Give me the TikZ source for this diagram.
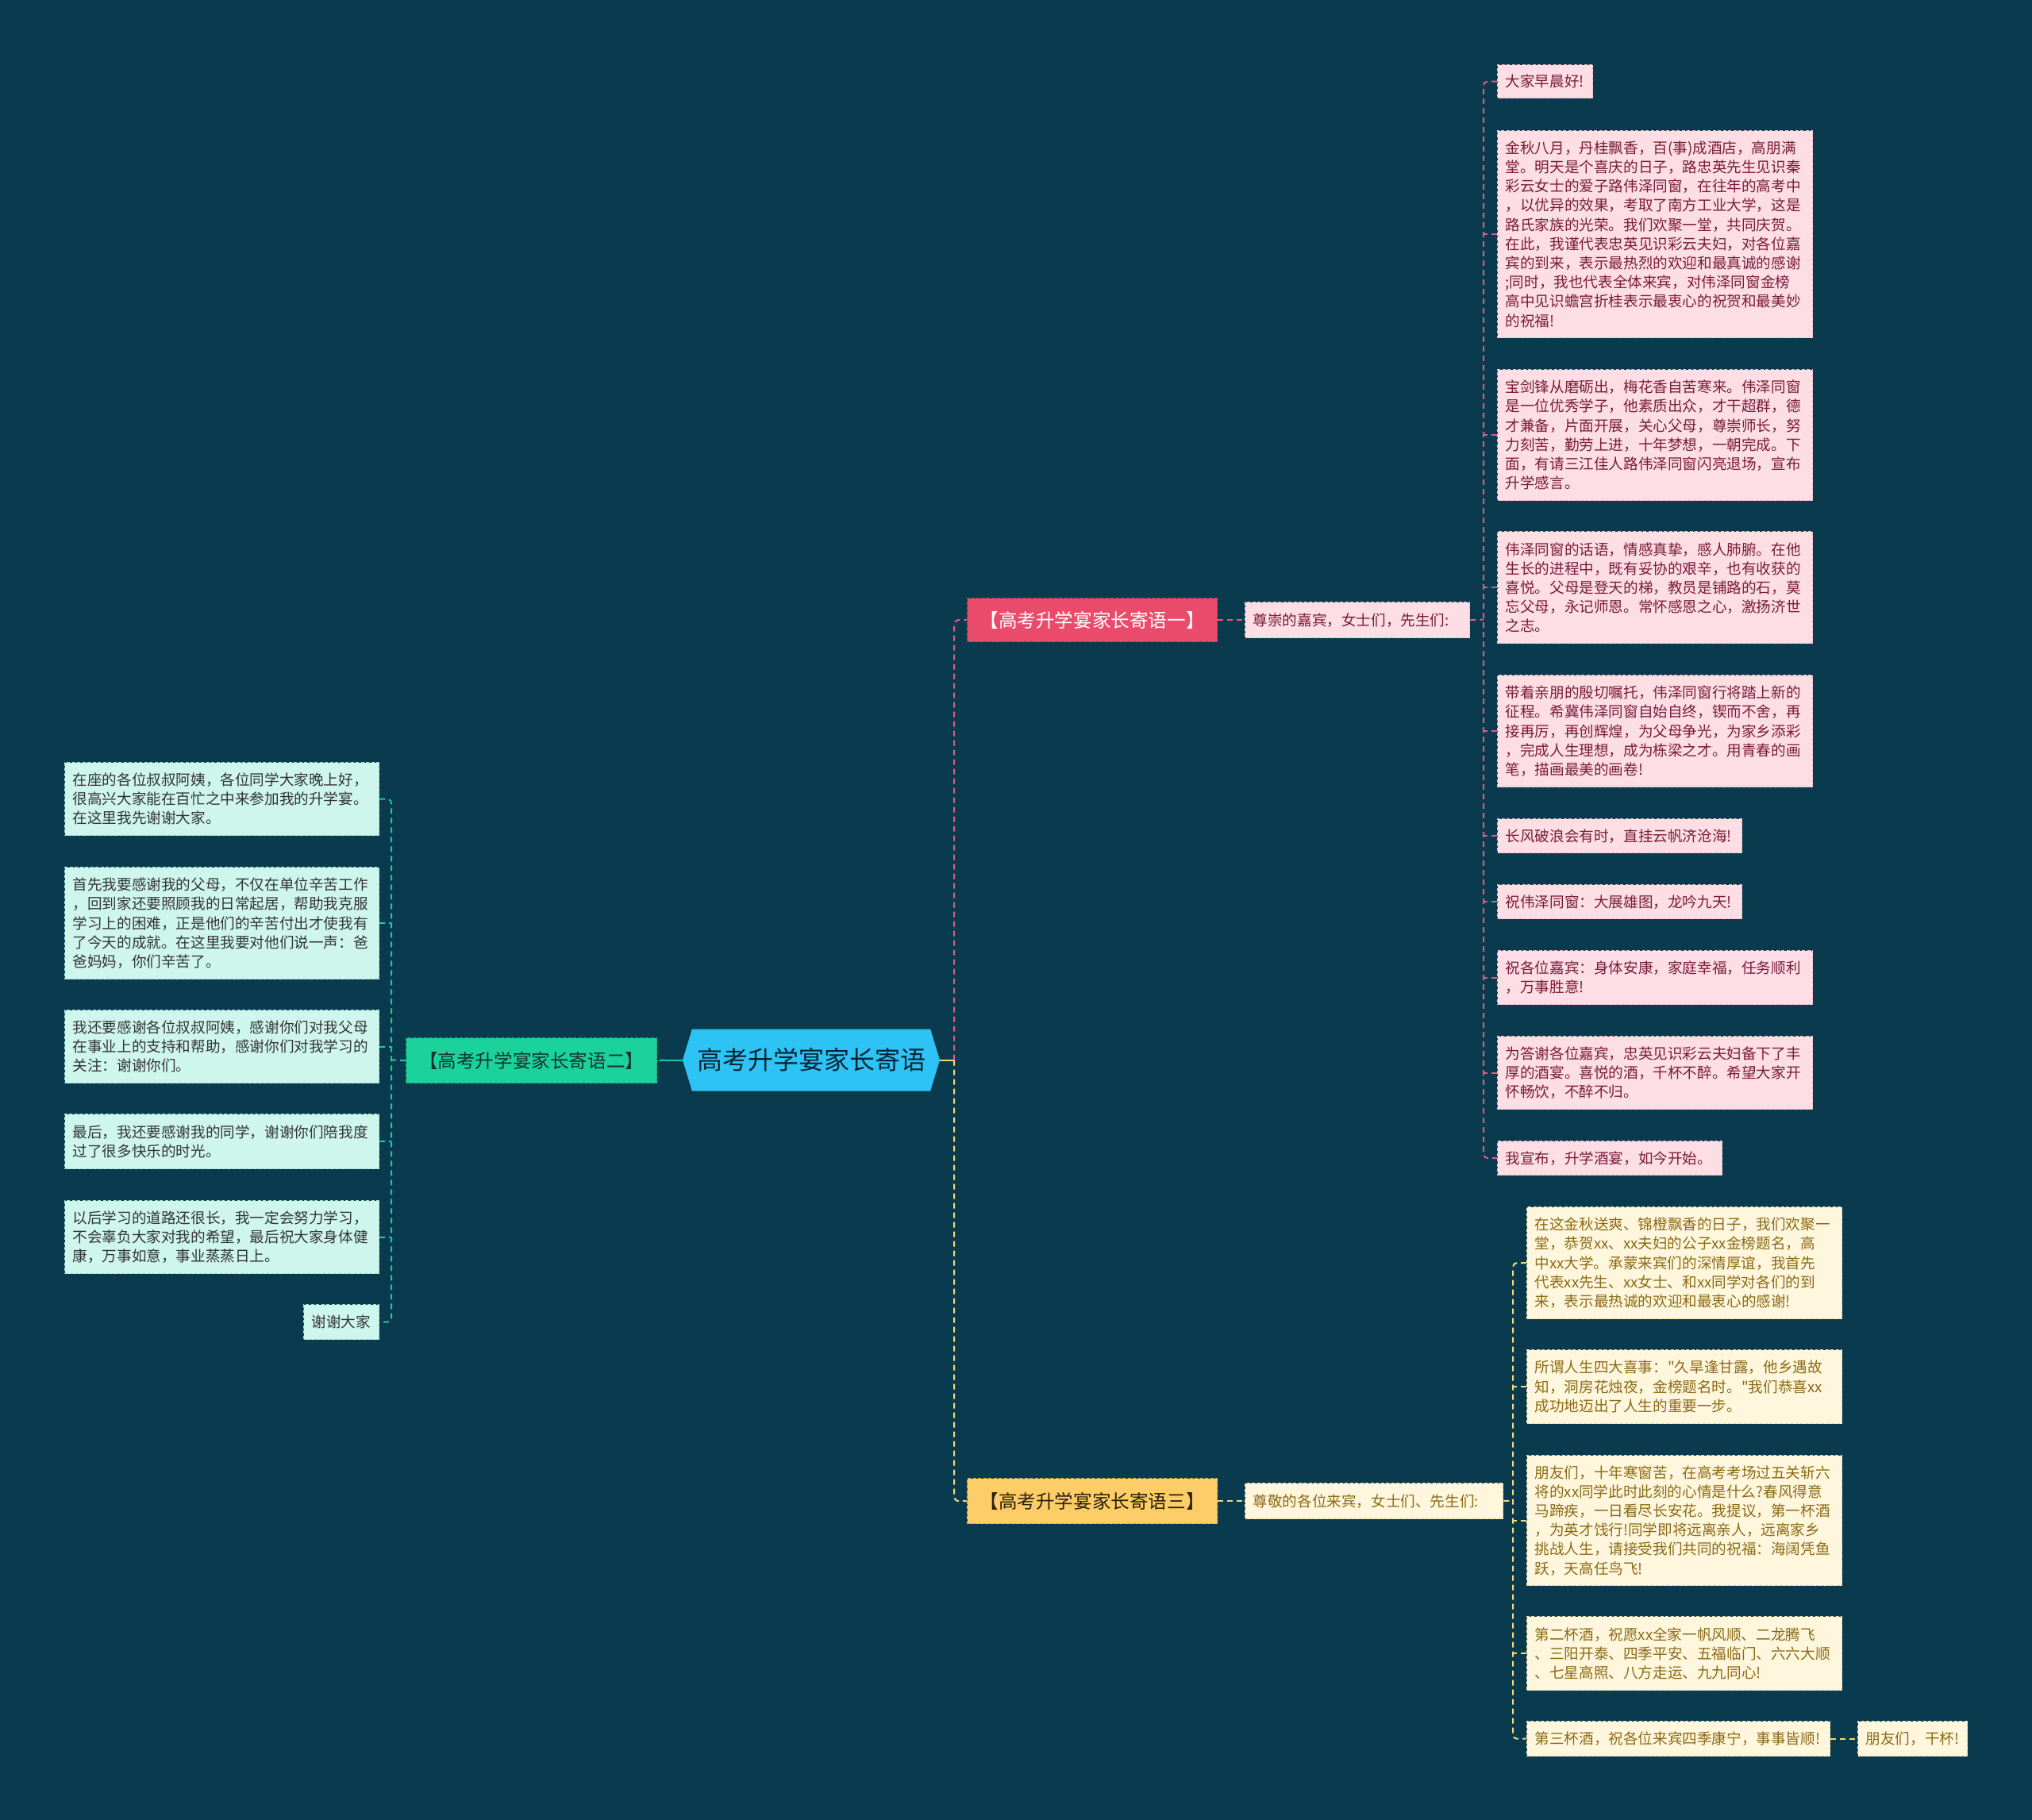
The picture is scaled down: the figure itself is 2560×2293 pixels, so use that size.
\documentclass[tikz,border=0pt]{standalone}
\usepackage{fontspec}
\setmainfont{Noto Sans CJK SC}
\newfontfamily\cjkfont{Noto Sans CJK SC}
\usetikzlibrary{calc,shapes.symbols}
\definecolor{bgc}{RGB}{9,58,78}
\definecolor{pkfill}{RGB}{252,222,228}
\definecolor{pkedge}{RGB}{236,186,198}
\definecolor{pktext}{RGB}{122,26,60}
\definecolor{pkline}{RGB}{222,92,132}
\definecolor{pkbr}{RGB}{235,75,107}
\definecolor{pkbredge}{RGB}{196,52,84}
\definecolor{gnfill}{RGB}{207,246,236}
\definecolor{gnedge}{RGB}{160,220,205}
\definecolor{gntext}{RGB}{50,52,52}
\definecolor{gnline}{RGB}{30,200,160}
\definecolor{gnbr}{RGB}{28,210,155}
\definecolor{gnbredge}{RGB}{18,165,122}
\definecolor{gnbrtext}{RGB}{22,50,42}
\definecolor{ywfill}{RGB}{254,247,222}
\definecolor{ywedge}{RGB}{232,214,168}
\definecolor{ywtext}{RGB}{140,105,20}
\definecolor{ywline}{RGB}{246,216,120}
\definecolor{ywbr}{RGB}{253,205,104}
\definecolor{ywbredge}{RGB}{215,168,72}
\definecolor{ywbrtext}{RGB}{42,32,10}
\definecolor{rootc}{RGB}{45,196,245}
\definecolor{roottext}{RGB}{10,35,50}
\tikzset{
  basebox/.style={anchor=north west, inner xsep=10pt, inner ysep=0pt, align=left,
    font=\cjkfont\fontsize{18.6pt}{24.2pt}\selectfont, line width=1.3pt, dash pattern=on 4pt off 2.5pt},
  pbox/.style={basebox, fill=pkfill, draw=pkedge, text=pktext},
  gbox/.style={basebox, fill=gnfill, draw=gnedge, text=gntext},
  ybox/.style={basebox, fill=ywfill, draw=ywedge, text=ywtext},
  brbox/.style={anchor=north west, inner sep=0pt, minimum width=315pt, minimum height=55pt,
    line width=1.3pt, dash pattern=on 4pt off 2.5pt, font=\cjkfont\fontsize{23.6pt}{28pt}\selectfont},
  conn/.style={line width=2pt, dash pattern=on 7pt off 5pt},
  pline/.style={conn, draw=pkline},
  gline/.style={conn, draw=gnline},
  yline/.style={conn, draw=ywline},
}
\begin{document}
\begin{tikzpicture}[x=1pt,y=-1pt]
\fill[bgc] (0,0) rectangle (2560,2293);
\useasboundingbox (0,0) rectangle (2560,2293);

% root
\node[signal, signal to=west and east, signal pointer angle=146, minimum width=324pt,
  minimum height=78pt, inner sep=0pt, fill=rootc, text=roottext,
  font=\cjkfont\fontsize{32pt}{38pt}\selectfont] (R) at (1022,1335.5) {高考升学宴家长寄语};

% branches
\node[brbox, fill=pkbr, draw=pkbredge, text=white] (B1) at (1218,753) {【高考升学宴家长寄语一】};
\node[brbox, fill=gnbr, draw=gnbredge, text=gnbrtext, minimum width=316pt, minimum height=57pt] (B2) at (511,1307) {【高考升学宴家长寄语二】};
\node[brbox, fill=ywbr, draw=ywbredge, text=ywbrtext, minimum height=57pt] (B3) at (1218,1862) {【高考升学宴家长寄语三】};

% labels
\node[pbox, minimum width=283pt, minimum height=45pt, text width=263pt] (L1) at (1568,758) {尊崇的嘉宾，女士们，先生们:};
\node[ybox, minimum width=325pt, minimum height=45pt, text width=305pt] (L3) at (1568,1868) {尊敬的各位来宾，女士们、先生们:};

% pink children
\node[pbox, minimum width=120pt, minimum height=42pt, text width=100pt] (P1) at (1886,81) {大家早晨好!};
\node[pbox, minimum width=397pt, minimum height=261pt, text width=377pt] (P2) at (1886,164) {金秋八月，丹桂飘香，百(事)成酒店，高朋满\\堂。明天是个喜庆的日子，路忠英先生见识秦\\彩云女士的爱子路伟泽同窗，在往年的高考中\\，以优异的效果，考取了南方工业大学，这是\\路氏家族的光荣。我们欢聚一堂，共同庆贺。\\在此，我谨代表忠英见识彩云夫妇，对各位嘉\\宾的到来，表示最热烈的欢迎和最真诚的感谢\\;同时，我也代表全体来宾，对伟泽同窗金榜\\高中见识蟾宫折桂表示最衷心的祝贺和最美妙\\的祝福!};
\node[pbox, minimum width=397pt, minimum height=165pt, text width=377pt] (P3) at (1886,465) {宝剑锋从磨砺出，梅花香自苦寒来。伟泽同窗\\是一位优秀学子，他素质出众，才干超群，德\\才兼备，片面开展，关心父母，尊崇师长，努\\力刻苦，勤劳上进，十年梦想，一朝完成。下\\面，有请三江佳人路伟泽同窗闪亮退场，宣布\\升学感言。};
\node[pbox, minimum width=397pt, minimum height=141pt, text width=377pt] (P4) at (1886,669) {伟泽同窗的话语，情感真挚，感人肺腑。在他\\生长的进程中，既有妥协的艰辛，也有收获的\\喜悦。父母是登天的梯，教员是铺路的石，莫\\忘父母，永记师恩。常怀感恩之心，激扬济世\\之志。};
\node[pbox, minimum width=397pt, minimum height=141pt, text width=377pt] (P5) at (1886,850) {带着亲朋的殷切嘱托，伟泽同窗行将踏上新的\\征程。希冀伟泽同窗自始自终，锲而不舍，再\\接再厉，再创辉煌，为父母争光，为家乡添彩\\，完成人生理想，成为栋梁之才。用青春的画\\笔，描画最美的画卷!};
\node[pbox, minimum width=308pt, minimum height=43pt, text width=288pt] (P6) at (1886,1031) {长风破浪会有时，直挂云帆济沧海!};
\node[pbox, minimum width=308pt, minimum height=43pt, text width=288pt] (P7) at (1886,1114) {祝伟泽同窗：大展雄图，龙吟九天!};
\node[pbox, minimum width=397pt, minimum height=68pt, text width=377pt] (P8) at (1886,1197) {祝各位嘉宾：身体安康，家庭幸福，任务顺利\\，万事胜意!};
\node[pbox, minimum width=397pt, minimum height=92pt, text width=377pt] (P9) at (1886,1305) {为答谢各位嘉宾，忠英见识彩云夫妇备下了丰\\厚的酒宴。喜悦的酒，千杯不醉。希望大家开\\怀畅饮，不醉不归。};
\node[pbox, minimum width=283pt, minimum height=43pt, text width=263pt] (P10) at (1886,1437) {我宣布，升学酒宴，如今开始。};

% yellow children
\node[ybox, minimum width=397pt, minimum height=141pt, text width=377pt] (Y1) at (1923,1520) {在这金秋送爽、锦橙飘香的日子，我们欢聚一\\堂，恭贺xx、xx夫妇的公子xx金榜题名，高\\中xx大学。承蒙来宾们的深情厚谊，我首先\\代表xx先生、xx女士、和xx同学对各们的到\\来，表示最热诚的欢迎和最衷心的感谢!};
\node[ybox, minimum width=397pt, minimum height=93pt, text width=377pt] (Y2) at (1923,1700) {所谓人生四大喜事："久旱逢甘露，他乡遇故\\知，洞房花烛夜，金榜题名时。"我们恭喜xx\\成功地迈出了人生的重要一步。};
\node[ybox, minimum width=397pt, minimum height=164pt, text width=377pt] (Y3) at (1923,1833) {朋友们，十年寒窗苦，在高考考场过五关斩六\\将的xx同学此时此刻的心情是什么?春风得意\\马蹄疾，一日看尽长安花。我提议，第一杯酒\\，为英才饯行!同学即将远离亲人，远离家乡\\挑战人生，请接受我们共同的祝福：海阔凭鱼\\跃，天高任鸟飞!};
\node[ybox, minimum width=397pt, minimum height=93pt, text width=377pt] (Y4) at (1923,2036) {第二杯酒，祝愿xx全家一帆风顺、二龙腾飞\\、三阳开泰、四季平安、五福临门、六六大顺\\、七星高照、八方走运、九九同心!};
\node[ybox, minimum width=382pt, minimum height=44pt, text width=362pt] (Y5) at (1923,2168) {第三杯酒，祝各位来宾四季康宁，事事皆顺!};
\node[ybox, minimum width=138pt, minimum height=44pt, text width=118pt] (Y6) at (2340,2168) {朋友们，干杯!};

% green children
\node[gbox, minimum width=396pt, minimum height=92pt, text width=376pt] (G1) at (81,960) {在座的各位叔叔阿姨，各位同学大家晚上好，\\很高兴大家能在百忙之中来参加我的升学宴。\\在这里我先谢谢大家。};
\node[gbox, minimum width=396pt, minimum height=141pt, text width=376pt] (G2) at (81,1092) {首先我要感谢我的父母，不仅在单位辛苦工作\\，回到家还要照顾我的日常起居，帮助我克服\\学习上的困难，正是他们的辛苦付出才使我有\\了今天的成就。在这里我要对他们说一声：爸\\爸妈妈，你们辛苦了。};
\node[gbox, minimum width=396pt, minimum height=92pt, text width=376pt] (G3) at (81,1272) {我还要感谢各位叔叔阿姨，感谢你们对我父母\\在事业上的支持和帮助，感谢你们对我学习的\\关注：谢谢你们。};
\node[gbox, minimum width=396pt, minimum height=69pt, text width=376pt] (G4) at (81,1403) {最后，我还要感谢我的同学，谢谢你们陪我度\\过了很多快乐的时光。};
\node[gbox, minimum width=396pt, minimum height=92pt, text width=376pt] (G5) at (81,1512) {以后学习的道路还很长，我一定会努力学习，\\不会辜负大家对我的希望，最后祝大家身体健\\康，万事如意，事业蒸蒸日上。};
\node[gbox, minimum width=95pt, minimum height=44pt, text width=75pt] (G6) at (382,1643) {谢谢大家};

% junction coordinates
\coordinate (rv) at (1202,1335.5);
\coordinate (gc) at (838,1335.5);
\coordinate (gv) at (493,1335.5);
\coordinate (pv) at (1869,780.5);
\coordinate (yv) at (1906,1890.5);

% root connectors
\draw[draw=ywline, line width=2pt] (R.east) -- (rv);
\draw[pline, rounded corners=6pt] (rv) |- (B1.west);
\draw[yline, rounded corners=6pt] (rv) |- (B3.west);
\draw[draw=gnline, line width=2pt] (R.west) -- (gc);
\draw[gline] (gc) -- (B2.east);

% branch to label
\draw[pline] (B1.east) -- (L1.west);
\draw[yline] (B3.east) -- (L3.west);
\draw[pline] (L1.east) -- (pv);
\draw[yline] (L3.east) -- (yv);
\draw[gline] (B2.west) -- (gv);

% pink tree
\draw[pline, rounded corners=5pt] (P1.west) -| (pv) |- (P10.west);
\foreach \n in {P2,P3,P4,P5,P6,P7,P8,P9}
  \draw[pline] (\n.west) -- (\n.west -| pv);

% yellow tree
\draw[yline, rounded corners=5pt] (Y1.west) -| (yv) |- (Y5.west);
\foreach \n in {Y2,Y3,Y4}
  \draw[yline] (\n.west) -- (\n.west -| yv);
\draw[yline] (Y5.east) -- (Y6.west);

% green tree
\draw[gline, rounded corners=5pt] (G1.east) -| (gv) |- (G6.east);
\foreach \n in {G2,G3,G4,G5}
  \draw[gline] (\n.east) -- (\n.east -| gv);
\end{tikzpicture}
\end{document}
